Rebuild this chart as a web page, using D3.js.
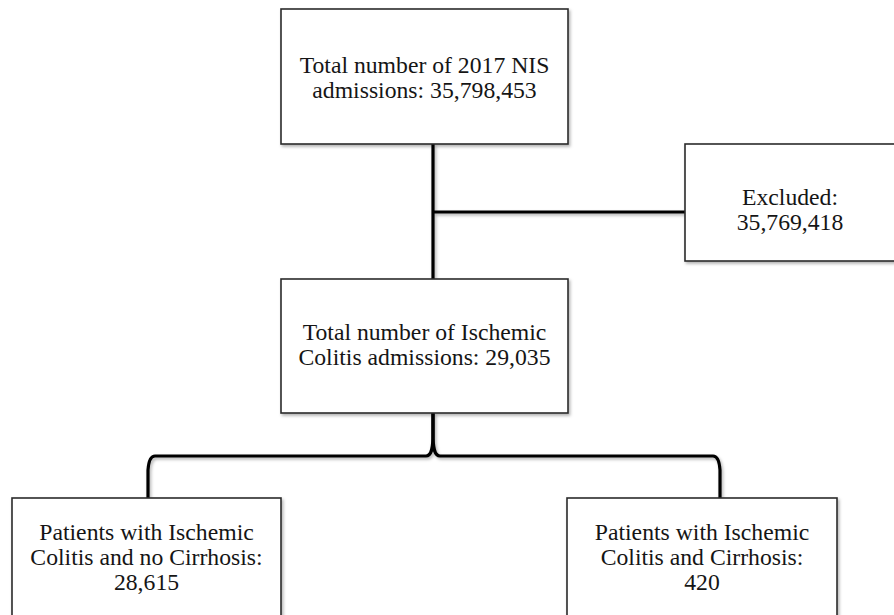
<!DOCTYPE html>
<html>
<head>
<meta charset="utf-8">
<script src="https://cdn.jsdelivr.net/npm/d3@7"></script>
<style>
  html, body { margin: 0; padding: 0; background: #fff; }
  svg { display: block; }
</style>
</head>
<body>
<div id="chart"></div>
<script>
// ---- Data ----
const nodeIds = ["total", "excluded", "ischemic", "noCirrhosis", "cirrhosis"];
const nodeLabels = [
  ["Total number of 2017 NIS", "admissions: 35,798,453"],
  ["Excluded:", "35,769,418"],
  ["Total number of Ischemic", "Colitis admissions: 29,035"],
  ["Patients with Ischemic", "Colitis and no Cirrhosis:", "28,615"],
  ["Patients with Ischemic", "Colitis and Cirrhosis:", "420"]
];
const nodeCounts = [35798453, 35769418, 29035, 28615, 420];

// ---- Layout ----
const W = 894, H = 615;

const boxes = {
  total:       {x0: 281, x1: 568, y0: 9,   y1: 144},
  excluded:    {x0: 685, x1: 900, y0: 144, y1: 261},
  ischemic:    {x0: 281, x1: 568, y0: 279, y1: 413},
  noCirrhosis: {x0: 12,  x1: 281, y0: 498, y1: 640},
  cirrhosis:   {x0: 567, x1: 837, y0: 498, y1: 640}
};
const textBaselines = {
  total: 73, excluded: 205, ischemic: 340, noCirrhosis: 540, cirrhosis: 540
};
const lineH = 25;

const svg = d3.select("#chart").append("svg")
  .attr("width", W).attr("height", H)
  .attr("viewBox", `0 0 ${W} ${H}`);

const defs = svg.append("defs");
const f = defs.append("filter").attr("id", "shadow")
  .attr("x", "-10%").attr("y", "-10%").attr("width", "130%").attr("height", "130%");
f.append("feDropShadow").attr("dx", 1.5).attr("dy", 2).attr("stdDeviation", 1.5)
  .attr("flood-color", "#000").attr("flood-opacity", 0.3);

// connectors
const conn = svg.append("g").attr("fill", "none").attr("stroke", "#000")
  .attr("stroke-width", 3.2).attr("filter", "url(#shadow)");

const cx = 433;
conn.append("path").attr("d", `M${cx},${boxes.total.y1} L${cx},${boxes.ischemic.y0}`);
conn.append("path").attr("d", `M${cx},212 L${boxes.excluded.x0},212`);

const by = 456;
const lx = 148, rx = 720;
conn.append("path").attr("d",
  `M${cx},${boxes.ischemic.y1} L${cx},${by - 22} C${cx},${by - 6} ${cx - 2},${by} ${cx - 7},${by} L${lx + 7},${by} Q${lx + 1},${by} ${lx},${by + 14} L${lx},${boxes.noCirrhosis.y0}`);
conn.append("path").attr("d",
  `M${cx},${boxes.ischemic.y1} L${cx},${by - 22} C${cx},${by - 6} ${cx + 2},${by} ${cx + 7},${by} L${rx - 7},${by} Q${rx - 1},${by} ${rx},${by + 14} L${rx},${boxes.cirrhosis.y0}`);

// boxes
const g = svg.append("g");
nodeIds.forEach((id, i) => {
  const b = boxes[id];
  g.append("rect")
    .attr("x", b.x0).attr("y", b.y0)
    .attr("width", b.x1 - b.x0).attr("height", b.y1 - b.y0)
    .attr("fill", "#fff").attr("stroke", "#2b2b2b").attr("stroke-width", 1.6)
    .attr("filter", "url(#shadow)");
  const t = g.append("text")
    .attr("text-anchor", "middle")
    .attr("font-family", "'Liberation Serif', 'Times New Roman', serif")
    .attr("font-size", 23.7)
    .attr("fill", "#151515");
  const mid = id === "excluded" ? 790 : (b.x0 + b.x1) / 2;
  nodeLabels[i].forEach((line, j) => {
    t.append("tspan").attr("x", mid).attr("y", textBaselines[id] + j * lineH).text(line);
  });
});
</script>
</body>
</html>
